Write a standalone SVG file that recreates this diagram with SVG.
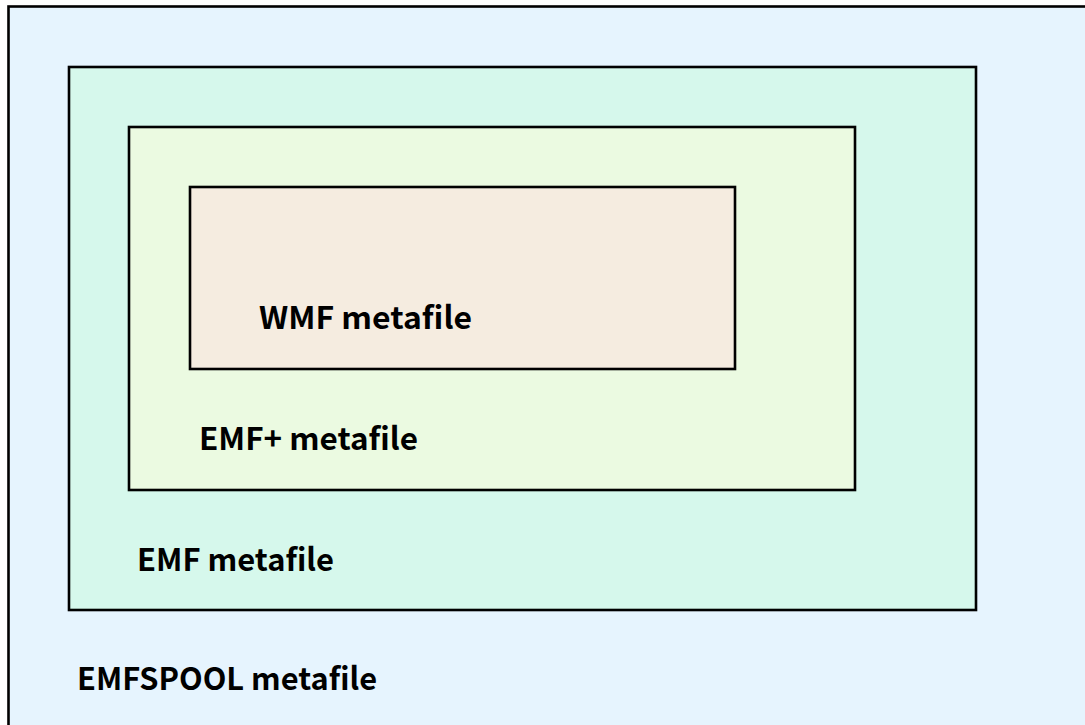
<svg xmlns="http://www.w3.org/2000/svg" width="1085" height="725" viewBox="0 0 1085 725">
<style>
.box{stroke:#000;stroke-width:2.6}
.lbl{font-family:"Noto Sans CJK KR","Noto Sans",sans-serif;font-weight:bold;font-size:31px;fill:#000}
</style>
<rect x="0" y="0" width="1085" height="725" fill="#fff"/>
<g id="emfspool">
<rect class="box" x="8.5" y="6.5" width="1090" height="730" fill="#E6F4FE"/>
<text class="lbl" x="77" y="690" textLength="300" lengthAdjust="spacingAndGlyphs">EMFSPOOL metafile</text>
</g>
<g id="emf">
<rect class="box" x="69" y="67" width="907" height="543" fill="#D6F8EC"/>
<text class="lbl" x="137" y="571" textLength="197" lengthAdjust="spacingAndGlyphs">EMF metafile</text>
</g>
<g id="emfplus">
<rect class="box" x="129" y="127" width="726" height="363" fill="#EBFAE1"/>
<text class="lbl" x="199" y="450" textLength="219" lengthAdjust="spacingAndGlyphs">EMF+ metafile</text>
</g>
<g id="wmf">
<rect class="box" x="190" y="187" width="545" height="182" fill="#F5ECE0"/>
<text class="lbl" x="259" y="329" textLength="213" lengthAdjust="spacingAndGlyphs">WMF metafile</text>
</g>
<g id="connectors"></g>
</svg>
